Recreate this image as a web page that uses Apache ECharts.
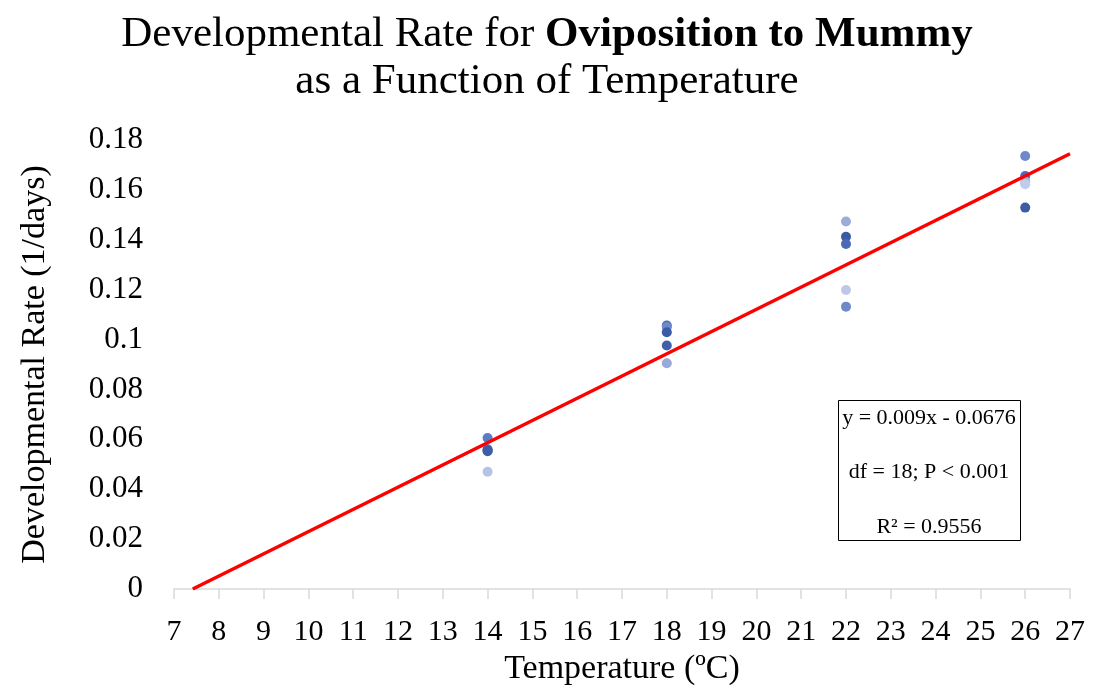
<!DOCTYPE html>
<html><head><meta charset="utf-8">
<script src="https://cdn.jsdelivr.net/npm/echarts@6/dist/echarts.min.js"></script>
<style>html,body{margin:0;padding:0;background:#fff}#c{width:1094px;height:692px}</style>
</head><body><div id="c"></div>
<script>
// Data
const temps = [14, 18, 22, 26];
const rates14 = [0.0605, 0.0560, 0.0555, 0.0552, 0.0470];
const rates18 = [0.1056, 0.1050, 0.1029, 0.0976, 0.0905];
const rates22 = [0.1473, 0.1412, 0.1383, 0.1199, 0.1132];
const rates26 = [0.1736, 0.1656, 0.1633, 0.1623, 0.1529];
const fitSlope = 0.00891;
const fitIntercept = -0.0661;
const xMax = 27;
const statLines = ['y = 0.009x - 0.0676', 'df = 18; P < 0.001', 'R² = 0.9556'];

// Styles
const shades = [
  ['#5B7BC6', '#4E6FBE', '#3F5FA8', '#3D5DA6', '#B6C3E3'],
  ['#4A6AB8', '#6E89CC', '#3B5BA5', '#3F5FA8', '#97A9D7'],
  ['#9AACD8', '#3A5AA4', '#4A6AB8', '#BCC8E6', '#6F88C8'],
  ['#6F88CC', '#4A6CC0', '#A4B4DE', '#C0CCE8', '#3B5BA5']
];
const allRates = [rates14, rates18, rates22, rates26];
const pts = [];
allRates.forEach((arr, i) => arr.forEach((v, j) => pts.push({value: [temps[i], v], itemStyle: {color: shades[i][j], opacity: 1}})));
const x0 = -fitIntercept / fitSlope;
const fitLine = [[x0, 0], [xMax, fitSlope * xMax + fitIntercept]];

const F = 'Liberation Serif, Times New Roman, serif';
const chart = echarts.init(document.getElementById('c'));
chart.setOption({
  backgroundColor: '#fff',
  animation: false,
  title: {
    text: '{n|Developmental Rate for }{b|Oviposition to Mummy}\n{n|as a Function of Temperature}',
    left: 'center', top: 6,
    textStyle: {
      fontWeight: 'normal',
      rich: {
        n: {fontFamily: F, fontSize: 43, fontWeight: 'normal', color: '#000', lineHeight: 47},
        b: {fontFamily: F, fontSize: 43, fontWeight: 'bold', color: '#000', lineHeight: 47}
      }
    }
  },
  grid: {left: 174, right: 24, top: 140, bottom: 103},
  xAxis: {
    type: 'value', min: 7, max: 27, interval: 1,
    name: 'Temperature (ºC)', nameLocation: 'middle', nameGap: 63,
    nameTextStyle: {fontFamily: F, fontSize: 34, color: '#000'},
    axisLine: {show: true, lineStyle: {color: '#D9D9D9', width: 1.5}},
    axisTick: {show: true, length: 10, lineStyle: {color: '#D9D9D9', width: 1.5}},
    axisLabel: {fontFamily: F, fontSize: 30, color: '#000', margin: 28},
    splitLine: {show: false}
  },
  yAxis: {
    type: 'value', min: 0, max: 0.18, interval: 0.02,
    name: 'Developmental Rate (1/days)', nameLocation: 'middle', nameGap: 122,
    nameTextStyle: {fontFamily: F, fontSize: 34, color: '#000'},
    axisLine: {show: false}, axisTick: {show: false},
    axisLabel: {fontFamily: F, fontSize: 31, color: '#000', margin: 31, formatter: v => String(+v.toFixed(2))},
    splitLine: {show: false}
  },
  series: [
    {type: 'scatter', data: pts, symbolSize: 10, z: 2},
    {type: 'line', data: fitLine, symbol: 'none', lineStyle: {color: '#FF0000', width: 3.5}, z: 3}
  ],
  graphic: [
    {type: 'rect', shape: {x: 838.5, y: 400.5, width: 182, height: 140}, style: {fill: '#fff', stroke: '#000', lineWidth: 1}, z: 10},
    {type: 'text', x: 929, y: 418, style: {text: statLines[0], font: '22px ' + F, fill: '#000', textAlign: 'center', textVerticalAlign: 'middle'}, z: 11},
    {type: 'text', x: 929, y: 472, style: {text: statLines[1], font: '22px ' + F, fill: '#000', textAlign: 'center', textVerticalAlign: 'middle'}, z: 11},
    {type: 'text', x: 929, y: 527, style: {text: statLines[2], font: '22px ' + F, fill: '#000', textAlign: 'center', textVerticalAlign: 'middle'}, z: 11}
  ]
});
</script></body></html>
